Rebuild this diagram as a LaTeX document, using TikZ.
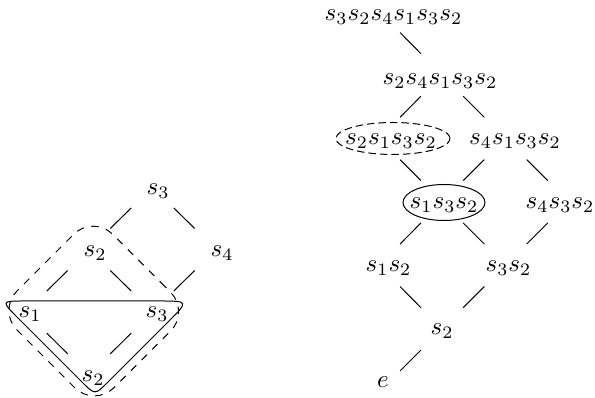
\documentclass[tikz,border=0pt]{standalone}
\begin{document}
\begin{tikzpicture}[x=0.4pt,y=-0.4pt,
  lbl/.style={inner sep=0pt, anchor=base},
  edge/.style={shorten <=12pt, shorten >=12pt},
  dgrp/.style={dashed, rounded corners=11pt},
  dell/.style={dash pattern=on 3pt off 1.6pt}]
\useasboundingbox (0,0) rectangle (595,398);

% ---------- left diagram: grid points ----------
\coordinate (La) at (152.5,187);
\coordinate (Lb) at (89,249.5);
\coordinate (Lc) at (216,249.5);
\coordinate (Ld) at (25.5,312);
\coordinate (Le) at (152.5,312);
\coordinate (Lf) at (89,375);

% labels
\node[lbl] (ls3) at (158,195) {$s_3$};
\node[lbl] (ls2) at (95,257) {$s_2$};
\node[lbl] (ls4) at (222,257) {$s_4$};
\node[lbl] (ls1) at (30,318) {$s_1$};
\node[lbl] (ls3b) at (157,318) {$s_3$};
\node[lbl] (ls2b) at (93,382) {$s_2$};

\draw[edge] (La) -- (Lb);
\draw[edge] (La) -- (Lc);
\draw[edge] (Lb) -- (Ld);
\draw[edge] (Lb) -- (Le);
\draw[edge] (Lc) -- (Le);
\draw[edge] (Ld) -- (Lf);
\draw[edge] (Le) -- (Lf);

% groupings
\coordinate (TL) at (1,301);
\coordinate (TR) at (189,301);
\coordinate (TB) at (95,395);
\draw (25,301) -- (159,301) .. controls (TR) .. (167.8,322.2)
      -- (107.7,382.3) .. controls (TB) .. (82.3,382.3)
      -- (18,318) .. controls (TL) .. cycle;
\draw[dgrp] (141.6,263.25) -- (190,311.7) -- (94.3,407.3) -- (-2.5,310.5) -- (93.2,214.8) -- cycle;

% ---------- right diagram: grid points ----------
\coordinate (Ra) at (379,11.25);
\coordinate (Rb) at (442,75);
\coordinate (Rc) at (379,138.5);
\coordinate (Rd) at (505.5,138.5);
\coordinate (Re) at (442,201.75);
\coordinate (Rf) at (569,201.75);
\coordinate (Rg) at (379,265.25);
\coordinate (Rh) at (505.5,265.25);
\coordinate (Ri) at (442,329);
\coordinate (Rj) at (379,392);

\node[lbl] (r1) at (393.5,21) {$s_3s_2s_4s_1s_3s_2$};
\node[lbl] (r2) at (440,85) {$s_2s_4s_1s_3s_2$};
\node[lbl] (r3) at (391,145) {$s_2s_1s_3s_2$};
\node[lbl] (r4) at (515,145) {$s_4s_1s_3s_2$};
\node[lbl] (r5) at (444,208.5) {$s_1s_3s_2$};
\node[lbl] (r6) at (560,208.5) {$s_4s_3s_2$};
\node[lbl] (r7) at (388.5,272) {$s_1s_2$};
\node[lbl] (r8) at (508.5,272) {$s_3s_2$};
\node[lbl] (r9) at (442,335) {$s_2$};
\node[lbl] (r10) at (383,388) {$e$};

\draw[edge] (Ra) -- (Rb);
\draw[edge] (Rb) -- (Rc);
\draw[edge] (Rb) -- (Rd);
\draw[edge] (Rc) -- (Re);
\draw[edge] (Rd) -- (Re);
\draw[edge] (Rd) -- (Rf);
\draw[edge] (Re) -- (Rg);
\draw[edge] (Re) -- (Rh);
\draw[edge] (Rf) -- (Rh);
\draw[edge] (Rg) -- (Ri);
\draw[edge] (Rh) -- (Ri);
\draw[edge] (Ri) -- (Rj);

% ellipses
\draw[dell] (393,138.5) ellipse [x radius=22.8pt, y radius=6.4pt];
\draw (444,202.5) ellipse [x radius=16.4pt, y radius=7.2pt];
\end{tikzpicture}
\end{document}
